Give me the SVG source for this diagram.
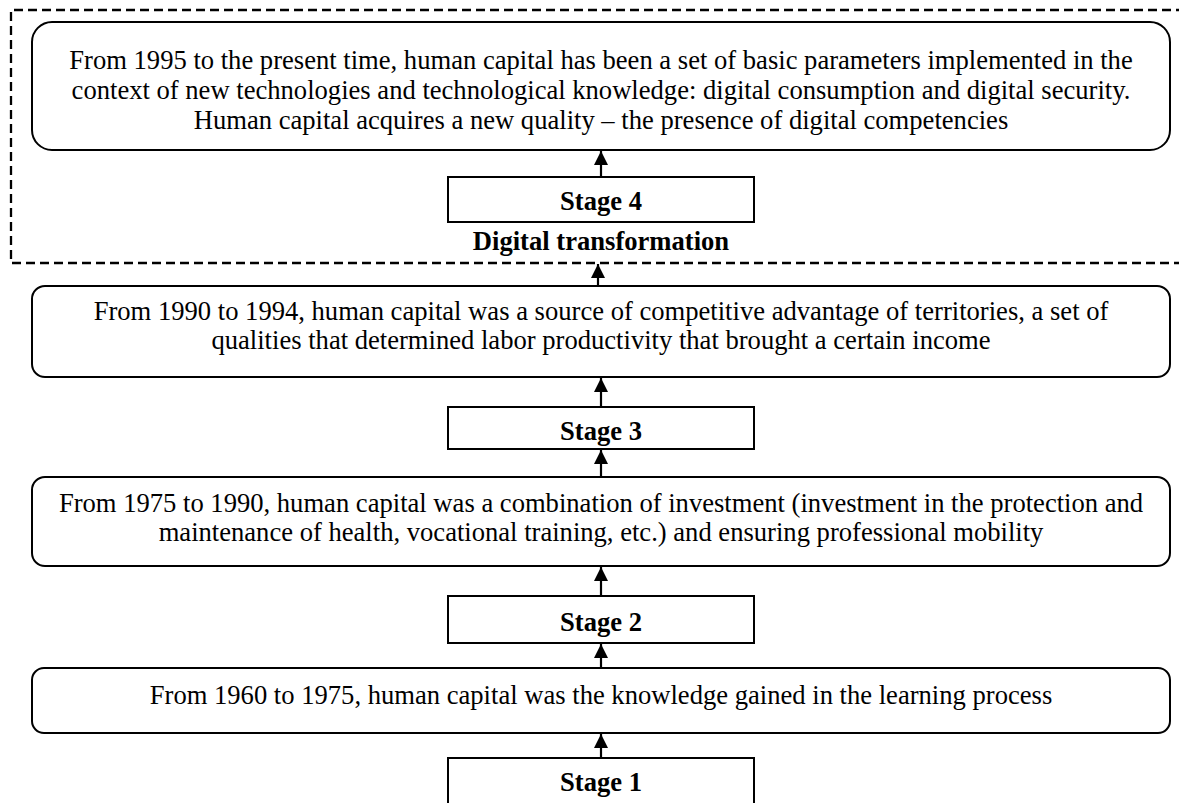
<svg xmlns="http://www.w3.org/2000/svg" width="1179" height="803" viewBox="0 0 1179 803">
<style>
.rb{fill:#fff;stroke:#000;stroke-width:2}
.sb{fill:#fff;stroke:#000;stroke-width:2}
.t{font-family:"Liberation Serif","Times New Roman",serif;font-size:26.6px;fill:#000;text-anchor:middle}
.b{font-weight:bold}
.c{stroke:#000;stroke-width:2.2;fill:none;marker-end:url(#ah)}
.dash{fill:none;stroke:#000;stroke-width:2.3;stroke-dasharray:9 5}
</style>
<defs>
<marker id="ah" markerUnits="userSpaceOnUse" markerWidth="16" markerHeight="16" refX="14" refY="7" orient="auto">
<path d="M0,0 L14,7 L0,14 Z" fill="#000"/>
</marker>
</defs>
<rect width="1179" height="803" fill="#fff"/>
<path id="digital-frame" class="dash" d="M1185,10 H11 V263 H1185"/>
<g id="box-1995">
<rect class="rb" x="32" y="22" width="1138" height="128" rx="20"/>
<text class="t" x="601" y="69">From 1995 to the present time, human capital has been a set of basic parameters implemented in the</text>
<text class="t" x="601" y="99">context of new technologies and technological knowledge: digital consumption and digital security.</text>
<text class="t" x="601" y="129">Human capital acquires a new quality – the presence of digital competencies</text>
</g>
<g id="stage4">
<rect class="sb" x="448" y="177" width="306" height="45"/>
<text class="t b" x="601" y="210">Stage 4</text>
</g>
<g id="label-digital">
<text class="t b" x="601" y="250">Digital transformation</text>
</g>
<g id="box-1990">
<rect class="rb" x="32" y="286" width="1138" height="91" rx="13"/>
<text class="t" x="601" y="320">From 1990 to 1994, human capital was a source of competitive advantage of territories, a set of</text>
<text class="t" x="601" y="349">qualities that determined labor productivity that brought a certain income</text>
</g>
<g id="stage3">
<rect class="sb" x="448" y="407" width="306" height="42"/>
<text class="t b" x="601" y="440">Stage 3</text>
</g>
<g id="box-1975">
<rect class="rb" x="32" y="477" width="1138" height="89" rx="13"/>
<text class="t" x="601" y="512">From 1975 to 1990, human capital was a combination of investment (investment in the protection and</text>
<text class="t" x="601" y="541">maintenance of health, vocational training, etc.) and ensuring professional mobility</text>
</g>
<g id="stage2">
<rect class="sb" x="448" y="596" width="306" height="47"/>
<text class="t b" x="601" y="631">Stage 2</text>
</g>
<g id="box-1960">
<rect class="rb" x="32" y="668" width="1138" height="65" rx="12"/>
<text class="t" x="601" y="704">From 1960 to 1975, human capital was the knowledge gained in the learning process</text>
</g>
<g id="stage1">
<rect class="sb" x="448" y="758" width="306" height="60"/>
<text class="t b" x="601" y="791">Stage 1</text>
</g>
<g id="connectors">
<line class="c" x1="601" y1="177" x2="601" y2="151"/>
<line class="c" x1="598" y1="286" x2="598" y2="264"/>
<line class="c" x1="601" y1="407" x2="601" y2="378"/>
<line class="c" x1="601" y1="477" x2="601" y2="450"/>
<line class="c" x1="601" y1="596" x2="601" y2="567"/>
<line class="c" x1="601" y1="668" x2="601" y2="644"/>
<line class="c" x1="601" y1="758" x2="601" y2="734"/>
</g>
</svg>
